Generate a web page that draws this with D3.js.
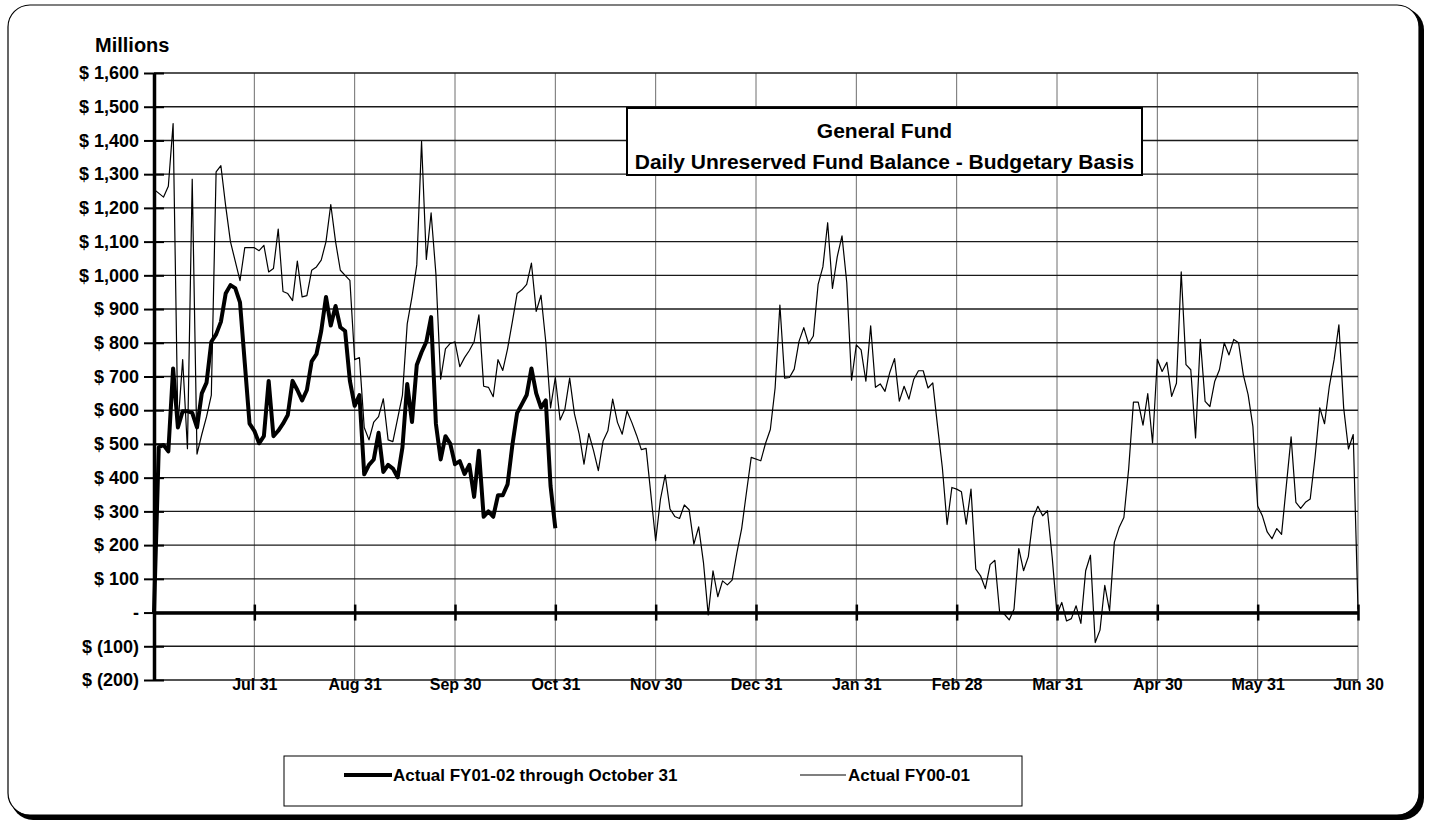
<!DOCTYPE html>
<html>
<head>
<meta charset="utf-8">
<script src="https://cdn.jsdelivr.net/npm/d3@7"></script>
<style>
  body { margin: 0; background: #fff; }
  svg text { font-family: "Liberation Sans", Arial, sans-serif; font-weight: bold; fill: #000; }
</style>
</head>
<body>
<script>
// month-end tick labels, 21 business days per month on the category axis
const monthLabels = ["Jul 31", "Aug 31", "Sep 30", "Oct 31", "Nov 30", "Dec 31",
  "Jan 31", "Feb 28", "Mar 31", "Apr 30", "May 31", "Jun 30"];
const daysPerMonth = 21;
const yTicks = d3.range(-200, 1601, 100);

// [business day, $ millions]
const fy0102 = [
  [0, 0], [1, 490], [2, 497], [3, 478], [4, 724], [5, 549], [6, 597], [7, 597], [8, 592], [9, 549],
  [10, 650], [11, 682], [12, 803], [13, 825], [14, 862], [15, 946], [16, 971], [17, 962], [18, 920],
  [19, 740], [20, 560], [21, 539], [22, 502], [23, 523], [24, 687], [25, 523], [26, 539], [27, 560],
  [28, 586], [29, 687], [30, 660], [31, 629], [32, 660], [33, 745], [34, 766], [35, 835], [36, 936],
  [37, 851], [38, 909], [39, 846], [40, 835], [41, 687], [42, 613], [43, 645], [44, 410], [45, 438],
  [46, 454], [47, 533], [48, 417], [49, 438], [50, 427], [51, 401], [52, 490], [53, 678], [54, 565],
  [55, 734], [56, 772], [57, 803], [58, 876], [59, 560], [60, 454], [61, 523], [62, 501], [63, 440],
  [64, 449], [65, 411], [66, 438], [67, 343], [68, 480], [69, 284], [70, 300], [71, 284], [72, 348],
  [73, 348], [74, 380], [75, 496], [76, 592], [77, 618], [78, 645], [79, 724], [80, 650], [81, 608],
  [82, 629], [83, 375], [84, 250]
];

const fy0001 = [
  [0, 1255], [2, 1232], [3, 1264], [4, 1450], [5, 550], [6, 750], [7, 486], [8, 1285], [9, 470],
  [10, 528], [11, 581], [12, 645], [13, 1307], [14, 1325], [15, 1206], [16, 1100], [18, 984], [19, 1082],
  [21, 1082], [22, 1073], [23, 1089], [24, 1010], [25, 1020], [26, 1137], [27, 952], [28, 946], [29, 925],
  [30, 1042], [31, 936], [32, 940], [33, 1015], [34, 1025], [35, 1045], [36, 1100], [37, 1210], [38, 1100],
  [39, 1015], [40, 1000], [41, 985], [42, 750], [43, 756], [44, 549], [45, 512], [46, 565], [47, 581],
  [48, 634], [49, 512], [50, 507], [52, 645], [53, 856], [54, 936], [55, 1031], [56, 1397], [57, 1047],
  [58, 1185], [59, 1005], [60, 692], [61, 782], [62, 798], [63, 803], [64, 729], [65, 756], [66, 777],
  [67, 803], [68, 883], [69, 671], [70, 668], [71, 640], [72, 750], [73, 718], [74, 782], [75, 862],
  [76, 946], [77, 957], [78, 973], [79, 1036], [80, 893], [81, 941], [82, 803], [83, 607], [84, 697],
  [85, 571], [86, 603], [87, 695], [88, 589], [89, 529], [90, 440], [91, 531], [92, 480], [93, 421],
  [94, 509], [95, 539], [96, 633], [97, 564], [98, 529], [99, 598], [100, 564], [101, 526], [102, 483],
  [103, 487], [105, 213], [106, 336], [107, 408], [108, 307], [109, 285], [110, 279], [111, 319],
  [112, 305], [113, 203], [114, 254], [115, 149], [116, -7], [117, 124], [118, 47], [119, 94], [120, 82],
  [121, 96], [122, 178], [123, 249], [124, 356], [125, 460], [127, 450], [128, 502], [129, 543],
  [130, 666], [131, 912], [132, 695], [133, 697], [134, 722], [135, 804], [136, 845], [137, 797],
  [138, 820], [139, 973], [140, 1025], [141, 1156], [142, 961], [143, 1055], [144, 1117], [145, 978],
  [146, 689], [147, 794], [148, 779], [149, 686], [150, 850], [151, 668], [152, 678], [153, 656],
  [154, 712], [155, 753], [156, 627], [157, 671], [158, 633], [159, 691], [160, 717], [161, 717],
  [162, 666], [163, 681], [164, 553], [165, 430], [166, 261], [167, 371], [168, 366], [169, 358],
  [170, 262], [171, 366], [172, 129], [173, 109], [174, 71], [175, 142], [176, 155], [177, 0], [178, -5],
  [179, -22], [180, 10], [181, 190], [182, 124], [183, 166], [184, 282], [185, 315], [186, 287],
  [187, 302], [188, 163], [189, -5], [190, 30], [191, -25], [192, -18], [193, 20], [194, -32], [195, 124],
  [196, 170], [197, -89], [198, -52], [199, 81], [200, 5], [201, 208], [202, 252], [203, 282], [204, 426],
  [205, 624], [206, 624], [207, 556], [208, 649], [209, 503], [210, 751], [211, 715], [212, 742],
  [213, 641], [214, 680], [215, 1010], [216, 735], [217, 720], [218, 518], [219, 810], [220, 626],
  [221, 611], [222, 685], [223, 720], [224, 800], [225, 764], [226, 810], [227, 800], [228, 705],
  [229, 646], [230, 552], [231, 316], [232, 286], [233, 239], [234, 219], [235, 249], [236, 232],
  [238, 521], [239, 327], [240, 309], [241, 327], [242, 337], [243, 459], [244, 607], [245, 560],
  [246, 671], [247, 750], [248, 853], [249, 607], [250, 485], [251, 528], [252, 10]
];

const legendData = [
  { name: "Actual FY01-02 through October 31", width: 4 },
  { name: "Actual FY00-01", width: 1.2 }
];

const W = 1432, H = 826;
const plot = { left: 154, right: 1358, top: 73, bottom: 680 };

const svg = d3.select("body").append("svg").attr("width", W).attr("height", H);

// * FRAME (rounded with heavy right/bottom edge)
svg.append("rect")
  .attr("x", 11).attr("y", 8).attr("width", 1413).attr("height", 812)
  .attr("rx", 22).attr("fill", "#000");
svg.append("rect")
  .attr("x", 8).attr("y", 5).attr("width", 1411).attr("height", 810)
  .attr("rx", 22).attr("fill", "#fff").attr("stroke", "#000").attr("stroke-width", 1.2);

// * SCALES
const x = d3.scaleLinear().domain([0, daysPerMonth * 12]).range([plot.left, plot.right]);
const y = d3.scaleLinear().domain([-200, 1600]).range([plot.bottom, plot.top]);
const monthTicks = monthLabels.map((d, i) => (i + 1) * daysPerMonth);

// * GRID
svg.append("g").selectAll("line").data(monthTicks).join("line")
  .attr("x1", d => x(d)).attr("x2", d => x(d))
  .attr("y1", plot.top).attr("y2", plot.bottom)
  .attr("stroke", "#6e6e6e").attr("stroke-width", 1);
svg.append("g").selectAll("line").data(yTicks).join("line")
  .attr("x1", plot.left).attr("x2", plot.right)
  .attr("y1", d => y(d)).attr("y2", d => y(d))
  .attr("stroke", "#1a1a1a").attr("stroke-width", 1.4);

// * AXES
const money = d => d === 0 ? "-" : d < 0 ? "$ (" + d3.format(",")(-d) + ")" : "$ " + d3.format(",")(d);
const yAxis = svg.append("g")
  .attr("transform", `translate(${plot.left},0)`)
  .call(d3.axisLeft(y).tickValues(yTicks).tickFormat(money).tickSizeInner(10).tickSizeOuter(0).tickPadding(5));
yAxis.select(".domain").attr("stroke-width", 3.5);
yAxis.selectAll(".tick line").attr("x1", 10).attr("stroke-width", 2);
yAxis.selectAll("text").attr("font-size", 18);

const xAxis = svg.append("g")
  .attr("transform", `translate(0,${y(0)})`)
  .call(d3.axisBottom(x).tickValues(monthTicks).tickFormat("").tickSizeInner(8).tickSizeOuter(0));
xAxis.select(".domain").attr("stroke-width", 3.5);
xAxis.selectAll(".tick line").attr("y1", -8).attr("stroke-width", 2.5);

const xLabels = svg.append("g")
  .attr("transform", `translate(0,${plot.bottom})`)
  .call(d3.axisBottom(x).tickValues(monthTicks).tickFormat((d, i) => monthLabels[i]).tickSize(0));
xLabels.select(".domain").remove();
xLabels.selectAll("text").attr("font-size", 16).attr("y", 4).attr("dy", "0.35em");

svg.append("text").attr("x", 95).attr("y", 52).attr("font-size", 20).text("Millions");

// * LINES
const line = d3.line().x(d => x(d[0])).y(d => y(d[1]));
svg.append("path").datum(fy0001)
  .attr("d", line).attr("fill", "none").attr("stroke", "#000").attr("stroke-width", 1.2)
  .attr("stroke-linejoin", "round");
svg.append("path").datum(fy0102)
  .attr("d", line).attr("fill", "none").attr("stroke", "#000").attr("stroke-width", 4)
  .attr("stroke-linejoin", "round");

// * TITLE BOX
svg.append("rect")
  .attr("x", 627).attr("y", 108).attr("width", 515).attr("height", 67)
  .attr("fill", "#fff").attr("stroke", "#000").attr("stroke-width", 2);
svg.append("text").attr("x", 884.5).attr("y", 137.5).attr("text-anchor", "middle")
  .attr("font-size", 21).text("General Fund");
svg.append("text").attr("x", 884.5).attr("y", 168.5).attr("text-anchor", "middle")
  .attr("font-size", 21).text("Daily Unreserved Fund Balance - Budgetary Basis");

// * LEGEND
svg.append("rect")
  .attr("x", 284).attr("y", 756).attr("width", 738).attr("height", 50)
  .attr("fill", "#fff").attr("stroke", "#000").attr("stroke-width", 1);
const items = svg.append("g").selectAll("g").data(legendData).join("g")
  .attr("transform", (d, i) => `translate(${i === 0 ? 344 : 800},775)`);
items.append("line").attr("x1", 0).attr("x2", d => d.width > 2 ? 48 : 46)
  .attr("stroke", "#000").attr("stroke-width", d => d.width);
items.append("text").attr("x", d => d.width > 2 ? 49 : 48).attr("y", 6)
  .attr("font-size", 17).text(d => d.name);
</script>
</body>
</html>
